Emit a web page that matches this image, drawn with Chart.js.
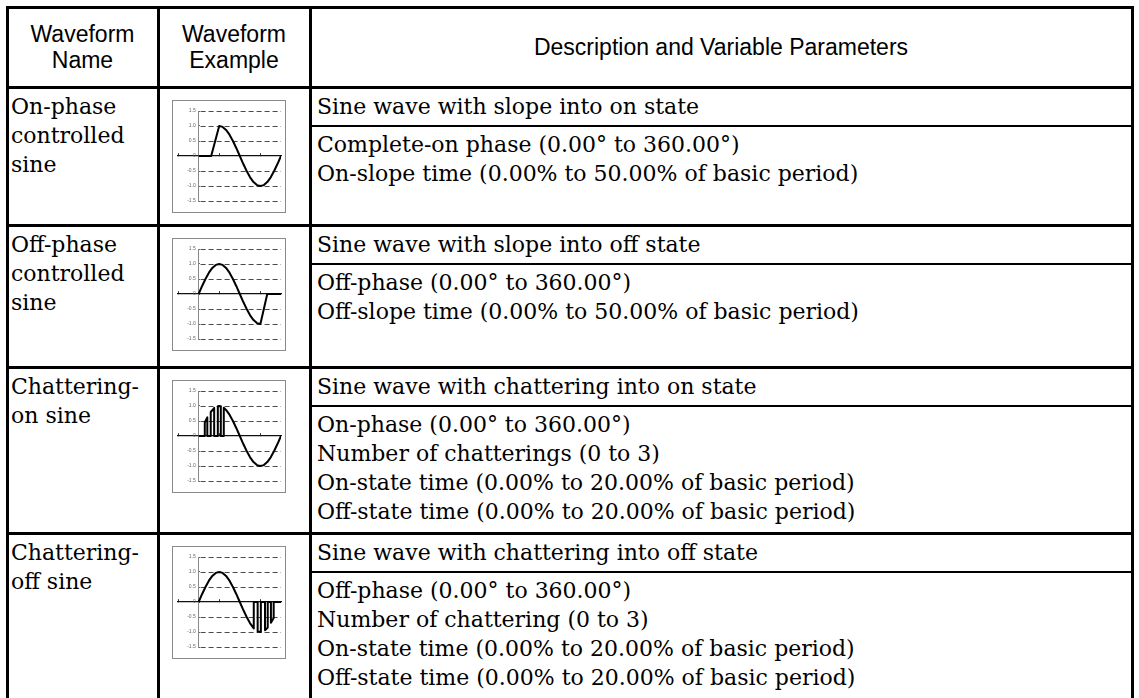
<!DOCTYPE html>
<html>
<head>
<meta charset="utf-8">
<script src="https://cdn.jsdelivr.net/npm/chart.js@4.4.1/dist/chart.umd.min.js"></script>
<style>
html,body{margin:0;padding:0;background:#fff;}
body{width:1139px;height:698px;position:relative;overflow:hidden;font-family:"DejaVu Serif",serif;color:#000;}
.ln{position:absolute;background:#000;}
.hd{position:absolute;font-family:"Liberation Sans",Arial,sans-serif;font-size:23px;line-height:26px;text-align:center;display:flex;align-items:center;justify-content:center;}
.tx{position:absolute;font-size:22px;line-height:29px;white-space:nowrap;}
.box{position:absolute;width:112px;height:111px;border:1px solid #8a8a8a;background:#fff;}
.box canvas{display:block;}
</style>
</head>
<body>
<script>
// ---------------- DATA ----------------
const headerLines = [["Waveform", "Name"], ["Waveform", "Example"], ["Description and Variable Parameters"]];
const waveformNames = [
  ["On-phase", "controlled", "sine"],
  ["Off-phase", "controlled", "sine"],
  ["Chattering-", "on sine"],
  ["Chattering-", "off sine"]
];
const descriptions = [
  "Sine wave with slope into on state",
  "Sine wave with slope into off state",
  "Sine wave with chattering into on state",
  "Sine wave with chattering into off state"
];
const parameterLines = [
  ["Complete-on phase (0.00° to 360.00°)", "On-slope time (0.00% to 50.00% of basic period)"],
  ["Off-phase (0.00° to 360.00°)", "Off-slope time (0.00% to 50.00% of basic period)"],
  ["On-phase (0.00° to 360.00°)", "Number of chatterings (0 to 3)", "On-state time (0.00% to 20.00% of basic period)", "Off-state time (0.00% to 20.00% of basic period)"],
  ["Off-phase (0.00° to 360.00°)", "Number of chattering (0 to 3)", "On-state time (0.00% to 20.00% of basic period)", "Off-state time (0.00% to 20.00% of basic period)"]
];

// waveform axis ticks
const yTickValues = [1.5, 1.0, 0.5, 0, -0.5, -1.0, -1.5];
const yTickLabels = ["1.5", "1.0", "0.5", "0", "-0.5", "-1.0", "-1.5"];
const gridLevels = [1.5, 1.0, 0.5, -0.5, -1.0, -1.5];
const xTickValues = [-90, 90, 270];

// waveform samples (phase in degrees, amplitude)
const onSlopeDeg = [0, 55, 90, 105, 120, 135, 150, 165, 180, 195, 210, 225, 240, 255, 270, 285, 300, 315, 330, 345, 360];
const onSlopeVal = [0, 0, 1.0, 0.97, 0.87, 0.71, 0.5, 0.26, 0, -0.26, -0.5, -0.71, -0.87, -0.97, -1.0, -0.97, -0.87, -0.71, -0.5, -0.26, 0];

const offSlopeDeg = [0, 15, 30, 45, 60, 75, 90, 105, 120, 135, 150, 165, 180, 195, 210, 225, 240, 255, 270, 300, 360];
const offSlopeVal = [0, 0.26, 0.5, 0.71, 0.87, 0.97, 1.0, 0.97, 0.87, 0.71, 0.5, 0.26, 0, -0.26, -0.5, -0.71, -0.87, -0.97, -1.0, 0, 0];

const chatterOnDeg = [0, 27, 27, 38, 38, 53, 53, 68, 68, 84, 84, 90, 97, 97, 110, 110, 120, 135, 150, 165, 180, 195, 210, 225, 240, 255, 270, 285, 300, 315, 330, 345, 360];
const chatterOnVal = [0, 0, 0.45, 0.62, 0, 0, 0.80, 0.93, 0, 0, 0.99, 1.0, 0.99, 0, 0, 0.94, 0.87, 0.71, 0.5, 0.26, 0, -0.26, -0.5, -0.71, -0.87, -0.97, -1.0, -0.97, -0.87, -0.71, -0.5, -0.26, 0];

const chatterOffDeg = [0, 15, 30, 45, 60, 75, 90, 105, 120, 135, 150, 165, 180, 195, 210, 225, 241, 241, 258, 258, 272, 272, 290, 290, 302, 302, 316, 316, 328, 328, 360];
const chatterOffVal = [0, 0.26, 0.5, 0.71, 0.87, 0.97, 1.0, 0.97, 0.87, 0.71, 0.5, 0.26, 0, -0.26, -0.5, -0.71, -0.88, 0, 0, -0.98, -1.0, 0, 0, -0.94, -0.85, 0, 0, -0.69, -0.53, 0, 0];

const waveDeg = [onSlopeDeg, offSlopeDeg, chatterOnDeg, chatterOffDeg];
const waveVal = [onSlopeVal, offSlopeVal, chatterOnVal, chatterOffVal];

// ---------------- LAYOUT ----------------
const colX = [7, 158, 310, 1132];
const rowY = [7, 87, 225, 367, 533, 700];
const T = 3;

function addLine(x, y, w, h) {
  const d = document.createElement('div');
  d.className = 'ln';
  d.style.left = x + 'px'; d.style.top = y + 'px';
  d.style.width = w + 'px'; d.style.height = h + 'px';
  document.body.appendChild(d);
}
function addText(cls, x, y, lines) {
  const d = document.createElement('div');
  d.className = cls;
  d.style.left = x + 'px'; d.style.top = y + 'px';
  lines.forEach((t, i) => {
    if (i) d.appendChild(document.createElement('br'));
    d.appendChild(document.createTextNode(t));
  });
  document.body.appendChild(d);
  return d;
}

rowY.forEach(y => addLine(colX[0] - T / 2, y - T / 2, colX[3] - colX[0] + T, T));
colX.forEach(x => addLine(x - T / 2, rowY[0] - T / 2, T, rowY[rowY.length - 1] - rowY[0] + T));

headerLines.forEach((lines, i) => {
  const d = document.createElement('div');
  d.className = 'hd';
  d.style.left = (colX[i] + T / 2) + 'px';
  d.style.top = (rowY[0] + T / 2) + 'px';
  d.style.width = (colX[i + 1] - colX[i] - T) + 'px';
  d.style.height = (rowY[1] - rowY[0] - T) + 'px';
  const s = document.createElement('span');
  lines.forEach((t, k) => { if (k) s.appendChild(document.createElement('br')); s.appendChild(document.createTextNode(t)); });
  d.appendChild(s);
  document.body.appendChild(d);
});

const dashGrid = {
  id: 'dashGrid',
  beforeDatasetsDraw(chart) {
    const { ctx, scales: { x, y } } = chart;
    const x0 = x.getPixelForValue(0), x1 = x.getPixelForValue(360);
    ctx.save();
    ctx.strokeStyle = '#4a4a4a';
    ctx.lineWidth = 1;
    ctx.setLineDash([5, 3]);
    gridLevels.forEach(v => {
      const py = Math.round(y.getPixelForValue(v)) + 0.5;
      ctx.beginPath(); ctx.moveTo(x0 + 2, py); ctx.lineTo(x1, py); ctx.stroke();
    });
    ctx.restore();
  }
};

function makeChart(canvas, degs, vals) {
  new Chart(canvas, {
    type: 'line',
    data: {
      datasets: [{
        data: degs.map((d, i) => ({ x: d, y: vals[i] })),
        borderColor: '#000',
        borderWidth: 2,
        pointRadius: 0,
        tension: 0,
        fill: false,
        borderJoinStyle: 'round'
      }]
    },
    options: {
      responsive: false,
      animation: false,
      devicePixelRatio: 1,
      layout: { padding: { left: 5, right: 4, top: 10, bottom: 11 } },
      plugins: { legend: { display: false }, tooltip: { enabled: false } },
      scales: {
        x: {
          type: 'linear', min: -90, max: 360,
          position: { y: 0 },
          afterBuildTicks: s => { s.ticks = xTickValues.map(v => ({ value: v })); },
          ticks: { display: false },
          grid: { display: true, drawOnChartArea: false, drawTicks: true, tickLength: -3, color: '#333' },
          border: { display: true, color: '#111', width: 1.2 }
        },
        y: {
          type: 'linear', min: -1.5, max: 1.5,
          position: { x: 0 },
          afterBuildTicks: s => { s.ticks = yTickValues.map(v => ({ value: v })); },
          ticks: {
            font: { size: 5, family: 'Liberation Sans' }, color: '#666', padding: 0,
            callback: v => { const k = yTickValues.indexOf(v); return (k >= 0 ? yTickLabels[k] : '') + '  '; }
          },
          grid: { display: true, drawOnChartArea: false, drawTicks: true, tickLength: -2, color: '#666' },
          border: { display: true, color: '#888', width: 1, dash: [4, 2] }
        }
      }
    },
    plugins: [dashGrid]
  });
}

for (let i = 0; i < 4; i++) {
  const top = rowY[i + 1];
  addText('tx', colX[0] + 4, top + 5, waveformNames[i]);
  addText('tx', colX[2] + 7, top + 5, [descriptions[i]]);
  addLine(colX[2], top + 38, colX[3] - colX[2], 2);
  addText('tx', colX[2] + 7, top + 43, parameterLines[i]);
  const box = document.createElement('div');
  box.className = 'box';
  box.style.left = '172px';
  box.style.top = (top + 13) + 'px';
  const cv = document.createElement('canvas');
  cv.width = 112; cv.height = 111;
  box.appendChild(cv);
  document.body.appendChild(box);
  makeChart(cv, waveDeg[i], waveVal[i]);
}
</script>
</body>
</html>
